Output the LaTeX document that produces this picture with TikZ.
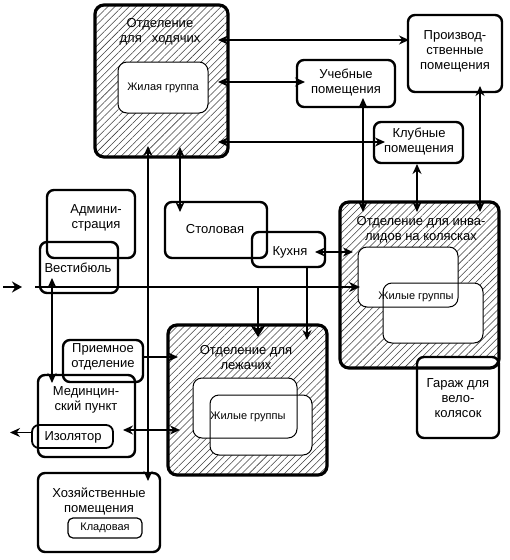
\documentclass[tikz,border=0pt]{standalone}
\usepackage{fontspec}
\setmainfont{Liberation Sans}
\usetikzlibrary{arrows.meta, calc, patterns.meta}

\tikzset{
  room/.style={draw, line width=2.4pt, rounded corners=7pt, inner sep=0pt, outer sep=0pt},
  ward/.style={draw, line width=3.2pt, rounded corners=9pt, inner sep=0pt, outer sep=0pt,
    pattern={Lines[angle=45,distance=5pt,line width=0.55pt]}, pattern color=black!75},
  cell/.style={fill=white, rounded corners=9pt, inner sep=0pt, outer sep=0pt},
  cellline/.style={line width=1pt, rounded corners=9pt},
  lbl/.style={align=center, inner sep=0pt, font=\fontsize{13}{15}\selectfont},
  small/.style={align=center, inner sep=0pt, font=\fontsize{11}{12}\selectfont},
  link/.style={line width=1.3pt},
  both/.style={link, {Stealth[length=10pt,width=9pt]}-{Stealth[length=10pt,width=9pt]}},
  oneway/.style={link, -{Stealth[length=10pt,width=9pt]}},
  hall/.style={line width=2.2pt}
}

\begin{document}
\begin{tikzpicture}[x=1pt, y=-1pt]
  \useasboundingbox (0,0) rectangle (510,560);

  % hatched wards
  \node[ward, minimum width=133pt, minimum height=152pt] (hod) at (161.5,81) {};
  \node[cell, minimum width=90pt, minimum height=51pt] (hodin) at (163,87.5) {};
  \draw[cellline] (hodin.north west) rectangle (hodin.south east);
  \node[lbl] (hod-t) at (160,32) {Отделение\\для\enspace\ ходячих};
  \node[small] (hodin-t) at (163,88) {Жилая группа};

  \node[ward, draw=none, minimum width=159pt, minimum height=166pt] (inv) at (419.5,285) {};
  \node[cell, minimum width=100pt, minimum height=60pt] (invin1) at (408,277) {};
  \node[cell, minimum width=100pt, minimum height=60pt] (invin2) at (433,313) {};
  \draw[cellline] (invin1.north west) rectangle (invin1.south east);
  \draw[cellline] (invin2.north west) rectangle (invin2.south east);
  \node[lbl] (inv-t) at (421,230) {Отделение для инва-\\лидов на колясках};
  \node[small] (inv-g) at (416,297) {Жилые группы};

  \node[room, fill=white, minimum width=82pt, minimum height=81pt] (garazh) at (458,397.5) {};
  \draw[line width=3.2pt, rounded corners=9pt] (inv.north west) rectangle (inv.south east);
  \node[lbl] (garazh-t) at (458,398) {Гараж для\\вело-\\колясок};

  \node[ward, minimum width=159pt, minimum height=150pt] (lezh) at (247.5,400) {};
  \node[cell, minimum width=104pt, minimum height=60pt] (lezhin1) at (245,408) {};
  \node[cell, minimum width=102pt, minimum height=60pt] (lezhin2) at (261,425) {};
  \draw[cellline] (lezhin1.north west) rectangle (lezhin1.south east);
  \draw[cellline] (lezhin2.north west) rectangle (lezhin2.south east);
  \node[lbl] (lezh-t) at (246,358) {Отделение для\\лежачих};
  \node[small] (lezh-g) at (248,417) {Жилые группы};

  % rooms
  \node[room, minimum width=94pt, minimum height=77pt] (proizv) at (455,53.5) {};
  \node[lbl] (proizv-t) at (455,51) {Производ-\\ственные\\помещения};
  \node[room, minimum width=98pt, minimum height=47pt] (ucheb) at (346,83.5) {};
  \node[lbl] (ucheb-t) at (346,83) {Учебные\\помещения};
  \node[room, minimum width=89pt, minimum height=41pt] (klub) at (418.5,142.5) {};
  \node[lbl] (klub-t) at (419,142) {Клубные\\помещения};

  \node[room, minimum width=88pt, minimum height=68pt] (admin) at (91,224) {};
  \node[lbl] (admin-t) at (96,218) {Админи-\\страция};
  \node[room, minimum width=78pt, minimum height=51pt] (vest) at (79,267.5) {};
  \node[lbl] (vest-t) at (78,268) {Вестибюль};

  \node[room, minimum width=102pt, minimum height=56pt] (stol) at (216,230) {};
  \node[lbl] (stol-t) at (215,229) {Столовая};
  \node[room, minimum width=73pt, minimum height=35pt] (kuhn) at (288.5,249.5) {};
  \node[lbl] (kuhn-t) at (290,252) {Кухня};

  \node[room, minimum width=80pt, minimum height=42pt] (priem) at (103,361) {};
  \node[lbl] (priem-t) at (103,357) {Приемное\\отделение};
  \node[room, minimum width=97pt, minimum height=82pt] (med) at (86.5,416) {};
  \node[lbl] (med-t) at (86,400) {Мединцин-\\ский пункт};
  \node[room, line width=1.8pt, minimum width=81pt, minimum height=23pt] (izol) at (72.5,436.5) {};
  \node[lbl] (izol-t) at (73,437) {Изолятор};

  \node[room, minimum width=122pt, minimum height=79pt] (hoz) at (99,512.5) {};
  \node[lbl] (hoz-t) at (99,501.5) {Хозяйственные\\помещения};
  \node[room, line width=1.2pt, rounded corners=5pt, minimum width=74pt, minimum height=20pt] (klad) at (105,528) {};
  \node[small] (klad-t) at (105,528) {Кладовая};

  % links to the upper ward
  \coordinate (a1) at ($(hod.north east)+(-10,35)$);
  \draw[both] (a1) -- ($(a1 -| proizv.west)+(1,0)$);
  \draw[both] ($(hod.east)+(-10,1)$) -- ($(hod.east -| ucheb.west)+(8,1)$);
  \draw[both] ($(hod.south east)+(-10,-15)$) -- ($(hod.south east -| klub.west)+(11,-15)$);
  \coordinate (v1) at ($(hod.south west)+(53,0)$);
  \draw[both] ($(v1)+(0,-11)$) -- ($(v1 |- hoz.north)+(0,8)$);
  \coordinate (v2) at ($(hod.south west)+(85,0)$);
  \draw[both] ($(v2)+(0,-10)$) -- ($(v2 |- stol.north)+(0,10)$);

  % main corridor
  \coordinate (h0) at ($(vest.south west)+(-5,-6)$);
  \draw[hall, -{Stealth[length=11pt,width=10pt]}] (h0) -- ($(h0 -| invin1.west)+(2,0)$);
  \draw[hall, -{Stealth[length=10pt,width=11pt]}] ($(h0)+(-32,0)$) -- ($(h0)+(-13,0)$);
  \coordinate (k1) at ($(lezh.north west)+(90,0)$);
  \draw[hall, -{Stealth[length=12pt,width=15pt]}] (k1 |- h0) -- ($(k1)+(0,12)$);
  \coordinate (k2) at ($(kuhn.south east)+(-18,0)$);
  \draw[oneway] (k2) -- ($(k2 |- lezh.north)+(0,15)$);
  \draw[both] ($(kuhn.east)+(-10,2.5)$) -- ($(kuhn.east -| inv.west)+(13,2.5)$);

  % links to the wheelchair ward
  \coordinate (u1) at ($(ucheb.south west)+(66,0)$);
  \draw[both] ($(u1)+(0,-9)$) -- ($(u1 |- inv.north)+(0,10)$);
  \coordinate (u2) at ($(klub.south west)+(43,0)$);
  \draw[both] ($(u2)+(0,1)$) -- ($(u2 |- inv.north)+(0,10)$);
  \coordinate (u3) at ($(proizv.south west)+(72,0)$);
  \draw[both] ($(u3)+(0,-6)$) -- ($(u3 |- inv.north)+(0,10)$);

  % lower left
  \coordinate (w1) at ($(vest.south west)+(12,0)$);
  \draw[both] ($(w1)+(0,-15)$) -- ($(w1 |- med.north)+(0,8)$);
  \draw[oneway] ($(priem.east)+(0,-4)$) -- ($(priem.east -| lezh.west)+(10,-4)$);
  \draw[both] ($(med.east)+(-12,14)$) -- ($(med.east -| lezh.west)+(12,14)$);
  \draw[oneway] ($(izol.west)+(0,-4)$) -- ($(izol.west)+(-22,-4)$);
\end{tikzpicture}
\end{document}
